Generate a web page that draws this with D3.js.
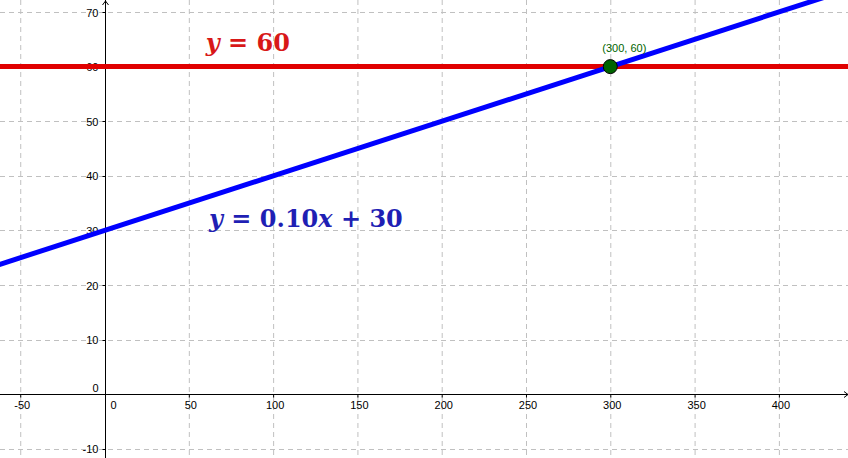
<!DOCTYPE html>
<html>
<head>
<meta charset="utf-8">
<script src="https://cdn.jsdelivr.net/npm/d3@7"></script>
<style>
  body { margin: 0; background: #fff; }
  svg { display: block; }
  .grid line { stroke: #c0c0c0; stroke-width: 1; stroke-dasharray: 5,4; }
  .axis text { font-family: "Liberation Sans", Arial, sans-serif; font-size: 11px; fill: #000; }
  .eq { font-family: "DejaVu Serif", "Liberation Serif", serif; font-weight: bold; }
</style>
</head>
<body>
<div id="chart"></div>
<script>
// tick values
var xTicks = [-50, 50, 100, 150, 200, 250, 300, 350, 400];
var yTicks = [-10, 10, 20, 30, 40, 50, 60, 70];
var xGrid = [-50, 0, 50, 100, 150, 200, 250, 300, 350, 400];
var yGrid = [-10, 0, 10, 20, 30, 40, 50, 60, 70];

// lines (end points)
var redLine = [[-70, 60], [450, 60]];
var blueLine = [[-70, 23], [450, 75]];
var crossPoint = [300, 60];

var W = 848, H = 458;

var xScale = d3.scaleLinear()
    .domain([-62, 441])
    .range([0, W]);
var yScale = d3.scaleLinear()
    .domain([-11.67, 72.2])
    .range([H, 0]);

var svg = d3.select("#chart")
    .append("svg")
    .attr("width", W)
    .attr("height", H);

// grid
var grid = svg.append("g").classed("grid", true);
grid.selectAll("line.v")
    .data(xGrid.filter(d => d != 0))
    .enter()
    .append("line")
    .attr("x1", d => xScale(d) + 0.5)
    .attr("x2", d => xScale(d) + 0.5)
    .attr("y1", 0)
    .attr("y2", H);
grid.selectAll("line.h")
    .data(yGrid.filter(d => d != 0))
    .enter()
    .append("line")
    .attr("y1", d => Math.round(yScale(d)) + 0.5)
    .attr("y2", d => Math.round(yScale(d)) + 0.5)
    .attr("x1", 0)
    .attr("x2", W);

// axes
var x0 = Math.round(xScale(0)) + 0.5;
var y0 = Math.round(yScale(0)) + 0.5;
var axis = svg.append("g").classed("axis", true);
axis.append("line")
    .attr("x1", 0).attr("x2", W)
    .attr("y1", y0).attr("y2", y0)
    .style("stroke", "#000");
axis.append("line")
    .attr("x1", x0).attr("x2", x0)
    .attr("y1", 0).attr("y2", H)
    .style("stroke", "#000");
// arrow heads
axis.append("path")
    .attr("d", "M" + (x0 - 3) + ",5 L" + x0 + ",1 L" + (x0 + 3) + ",5")
    .style("fill", "none").style("stroke", "#000");
axis.append("path")
    .attr("d", "M" + (W - 4) + "," + (y0 - 3) + " L" + W + "," + y0 + " L" + (W - 4) + "," + (y0 + 3))
    .style("fill", "none").style("stroke", "#000");

// tick marks
axis.selectAll("line.xt")
    .data(xTicks)
    .enter()
    .append("line")
    .attr("x1", d => xScale(d) + 0.5)
    .attr("x2", d => xScale(d) + 0.5)
    .attr("y1", y0)
    .attr("y2", y0 + 3)
    .style("stroke", "#000");
axis.selectAll("line.yt")
    .data(yTicks)
    .enter()
    .append("line")
    .attr("x1", x0 - 3)
    .attr("x2", x0)
    .attr("y1", d => Math.round(yScale(d)) + 0.5)
    .attr("y2", d => Math.round(yScale(d)) + 0.5)
    .style("stroke", "#000");

// tick labels
axis.selectAll("text.xl")
    .data(xTicks)
    .enter()
    .append("text")
    .attr("x", d => xScale(d) + 2)
    .attr("y", y0 + 14)
    .attr("text-anchor", "middle")
    .text(d => d);
axis.append("text")
    .attr("x", x0 + 5)
    .attr("y", y0 + 14)
    .text("0");
axis.selectAll("text.yl")
    .data(yTicks)
    .enter()
    .append("text")
    .attr("x", x0 - 7)
    .attr("y", d => yScale(d) + 4.5)
    .attr("text-anchor", "end")
    .text(d => d);
axis.append("text")
    .attr("x", x0 - 7)
    .attr("y", y0 - 3)
    .attr("text-anchor", "end")
    .text("0");

// lines
var line = d3.line()
    .x(d => xScale(d[0]))
    .y(d => yScale(d[1]));

svg.append("path")
    .datum(redLine)
    .attr("d", line)
    .attr("fill", "none")
    .style("stroke", "#e00000")
    .attr("stroke-width", 5);

svg.append("path")
    .datum(blueLine)
    .attr("d", line)
    .attr("fill", "none")
    .style("stroke", "#0000ff")
    .attr("stroke-width", 5);

// intersection point
svg.append("circle")
    .attr("cx", xScale(crossPoint[0]))
    .attr("cy", yScale(crossPoint[1]))
    .attr("r", 7)
    .style("fill", "#006400")
    .style("stroke", "#000")
    .attr("stroke-width", 1);
svg.append("text")
    .attr("x", xScale(crossPoint[0]) + 14)
    .attr("y", yScale(crossPoint[1]) - 15)
    .attr("text-anchor", "middle")
    .style("font-family", "'Liberation Sans', Arial, sans-serif")
    .style("font-size", "11px")
    .style("fill", "#006400")
    .text("(" + crossPoint[0] + ", " + crossPoint[1] + ")");

// equation labels
function eq(x, y, color, parts) {
    var t = svg.append("text")
        .classed("eq", true)
        .attr("x", x)
        .attr("y", y)
        .style("fill", color)
        .style("font-size", "24px");
    parts.forEach(p => {
        t.append("tspan")
            .style("font-style", p[1] ? "italic" : "normal")
            .text(p[0]);
    });
}
eq(xScale(60), yScale(62.8), "#d81818", [["y", true], [" = 60", false]]);
eq(xScale(62), yScale(30.7), "#1f1fb4", [["y", true], [" = 0.10", false], ["x", true], [" + 30", false]]);
</script>
</body>
</html>
